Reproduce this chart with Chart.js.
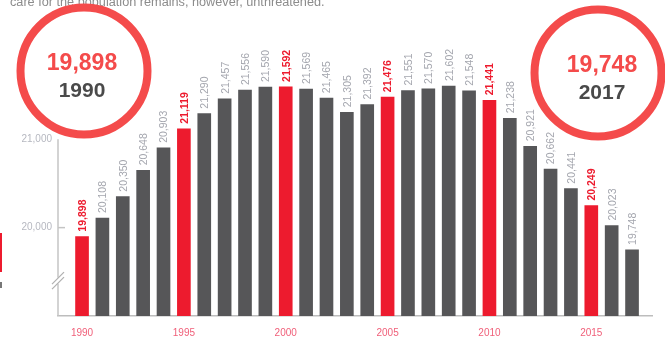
<!DOCTYPE html>
<html>
<head>
<meta charset="utf-8">
<script src="https://cdn.jsdelivr.net/npm/chart.js@4/dist/chart.umd.min.js"></script>
<style>
  html, body { margin: 0; padding: 0; background: #fff; }
  #wrap { width: 665px; height: 357px; position: relative; }
</style>
</head>
<body>
<div id="wrap"><canvas id="chart" width="665" height="357"></canvas></div>
<script>
// Data
const years = [1990, 1991, 1992, 1993, 1994, 1995, 1996, 1997, 1998, 1999,
               2000, 2001, 2002, 2003, 2004, 2005, 2006, 2007, 2008, 2009,
               2010, 2011, 2012, 2013, 2014, 2015, 2016, 2017];
const values = [19898, 20108, 20350, 20648, 20903, 21119, 21290, 21457, 21556, 21590,
                21592, 21569, 21465, 21305, 21392, 21476, 21551, 21570, 21602, 21548,
                21441, 21238, 20921, 20662, 20441, 20249, 20023, 19748];
const xTickYears = [1990, 1995, 2000, 2005, 2010, 2015];
const yTickValues = [20000, 21000];
const callouts = [
    { value: '19,898', year: '1990' },
    { value: '19,748', year: '2017' }
];
const introText = 'care for the population remains, however, unthreatened.';

// Colours
const RED = '#ed1b2e';
const GRAY = '#565658';
const RING = '#f44b4b';
const fmt = new Intl.NumberFormat('en-US');
const isHighlight = y => y % 5 === 0;

const points = years.map((y, i) => ({ x: y, y: values[i] }));

// value labels, axis pieces and callout circles
const decorations = {
    id: 'decorations',
    afterDatasetsDraw(chart) {
        const { ctx } = chart;
        const meta = chart.getDatasetMeta(0);
        meta.data.forEach((bar, i) => {
            const hl = isHighlight(years[i]);
            ctx.save();
            ctx.translate(bar.x, bar.y - 5);
            ctx.rotate(-Math.PI / 2);
            ctx.textAlign = 'left';
            ctx.textBaseline = 'middle';
            ctx.font = (hl ? 'bold ' : '') + '10.5px "Liberation Sans", Arial, sans-serif';
            ctx.fillStyle = hl ? RED : '#a4a6ae';
            ctx.fillText(fmt.format(values[i]), 0, 1);
            ctx.restore();
        });
    },
    afterDraw(chart) {
        const { ctx, scales } = chart;
        const yS = scales.y;
        const axisX = chart.chartArea.left;
        const top = yS.getPixelForValue(21000);
        const bottom = chart.chartArea.bottom;

        ctx.save();
        // y axis line (from 21,000 down)
        ctx.strokeStyle = '#c4c4c4';
        ctx.lineWidth = 1.5;
        ctx.beginPath();
        ctx.moveTo(axisX, top);
        ctx.lineTo(axisX, bottom);
        ctx.stroke();
        // tick dash at 20,000
        const t20 = yS.getPixelForValue(20000);
        ctx.beginPath();
        ctx.moveTo(axisX, t20);
        ctx.lineTo(axisX + 7, t20);
        ctx.stroke();
        // axis break marks
        const by = yS.getPixelForValue(19400);
        ctx.fillStyle = '#fff';
        ctx.fillRect(axisX - 2, by - 3, 4, 6);
        ctx.strokeStyle = '#b0b0b0';
        ctx.lineWidth = 1.2;
        [-2.5, 2.5].forEach(d => {
            ctx.beginPath();
            ctx.moveTo(axisX - 6, by + d + 6);
            ctx.lineTo(axisX + 6, by + d - 6);
            ctx.stroke();
        });

        // cropped marks at the left edge
        ctx.fillStyle = RED;
        ctx.fillRect(0, 233, 2, 39);
        ctx.fillStyle = '#777';
        ctx.fillRect(0, 282, 2, 6);

        // intro text, cut at the top
        ctx.fillStyle = '#8c8c8c';
        ctx.font = '12.7px "Liberation Sans", Arial, sans-serif';
        ctx.textAlign = 'left';
        ctx.textBaseline = 'alphabetic';
        ctx.fillText(introText, 10, 6);

        // callout circles
        const rings = [
            { cx: 84, cy: 71, tx: 82 },
            { cx: 598, cy: 73, tx: 602 }
        ];
        rings.forEach((r, i) => {
            ctx.strokeStyle = RING;
            ctx.lineWidth = 8;
            ctx.beginPath();
            ctx.arc(r.cx, r.cy, 63.5, 0, Math.PI * 2);
            ctx.stroke();
            ctx.textAlign = 'center';
            ctx.textBaseline = 'middle';
            ctx.fillStyle = RING;
            ctx.font = 'bold 23px "Liberation Sans", Arial, sans-serif';
            ctx.fillText(callouts[i].value, r.tx, r.cy - 7);
            ctx.fillStyle = '#4a4a4a';
            ctx.font = 'bold 21px "Liberation Sans", Arial, sans-serif';
            ctx.fillText(callouts[i].year, r.tx, r.cy + 20);
        });
        ctx.restore();
    }
};

new Chart(document.getElementById('chart').getContext('2d'), {
    type: 'bar',
    data: {
        datasets: [{
            data: points,
            backgroundColor: years.map(y => isHighlight(y) ? RED : GRAY),
            borderWidth: 0,
            barThickness: 13
        }]
    },
    options: {
        responsive: false,
        animation: false,
        layout: { padding: { top: 10, right: 13, left: 0, bottom: 0 } },
        plugins: { legend: { display: false }, tooltip: { enabled: false } },
        scales: {
            x: {
                type: 'linear',
                offset: false,
                min: 1988.82,
                max: 2017.98,
                afterBuildTicks: s => { s.ticks = xTickYears.map(v => ({ value: v })); },
                afterFit: s => { s.height = 41; },
                grid: { display: false, drawTicks: false, offset: false },
                border: { display: true, color: '#bdbdbd', width: 1.5 },
                ticks: {
                    color: '#f0607a',
                    padding: 11,
                    maxRotation: 0,
                    autoSkip: false,
                    font: { family: '"Liberation Sans", Arial, sans-serif', size: 10 },
                    callback: v => String(v)
                }
            },
            y: {
                min: 19000,
                max: 22440,
                afterBuildTicks: s => { s.ticks = yTickValues.map(v => ({ value: v })); },
                afterFit: s => { s.width = 58; },
                grid: { display: false, drawTicks: false },
                border: { display: false },
                ticks: {
                    color: '#b6b8c0',
                    padding: 6,
                    font: { family: '"Liberation Sans", Arial, sans-serif', size: 10 },
                    callback: v => fmt.format(v)
                }
            }
        }
    },
    plugins: [decorations]
});
</script>
</body>
</html>
